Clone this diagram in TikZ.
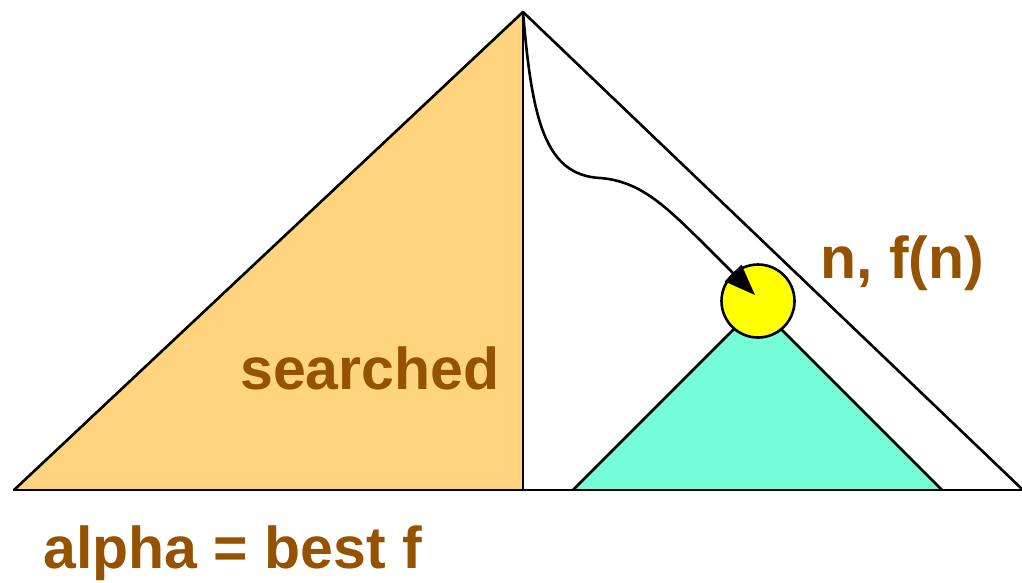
\documentclass[tikz,border=0pt]{standalone}
\usepackage{fontspec}
\setmainfont{Liberation Sans}
\usetikzlibrary{arrows.meta}
\definecolor{txtbrown}{HTML}{955200}
\definecolor{searchfill}{HTML}{FED47E}
\definecolor{subfill}{HTML}{76FCD6}
\definecolor{nodefill}{HTML}{FFFF00}
\tikzset{
  edge/.style={line width=2.6pt, line join=round, line cap=round},
  lbl/.style={font=\fontsize{59}{59}\selectfont\bfseries, text=txtbrown, inner sep=0pt, anchor=base west},
}
\begin{document}
\begin{tikzpicture}[x=1pt,y=-1pt]
\useasboundingbox (0,0) rectangle (1022,582);
\coordinate (apex) at (523,12);
\coordinate (bl) at (14,490);
\coordinate (bm) at (523,490);
\coordinate (br) at (1023,490);
\coordinate (sl) at (573,490);
\coordinate (sr) at (942,490);
\coordinate (sa) at (757.5,305.5);
% searched part
\fill[searchfill] (apex) -- (bl) -- (bm) -- cycle;
% subtree
\fill[subfill] (sa) -- (sl) -- (sr) -- cycle;
\draw[edge] (sl) -- (sa) -- (sr);
% outer tree
\draw[edge] (bl) -- (apex) -- (br);
\draw[edge] (bl) -- (br);
\draw[edge] (apex) -- (bm);
% node n
\node[circle, draw, line width=2.6pt, fill=nodefill, minimum size=73pt, inner sep=0pt] (n) at (758,301) {};
\coordinate (tip) at (755,295);
% path
\draw[edge, -{Triangle[length=31pt,width=23pt]}] (apex) .. controls (532,120) and (545,175) .. (600,178) .. controls (640,181) and (665,206) .. (700,240) -- (tip);
% labels
\node[lbl] (nlab) at (820,278) {n, f(n)};
\node[lbl] (slab) at (240,389) {searched};
\node[lbl] (alab) at (43,568) {alpha = best f};
\end{tikzpicture}
\end{document}
